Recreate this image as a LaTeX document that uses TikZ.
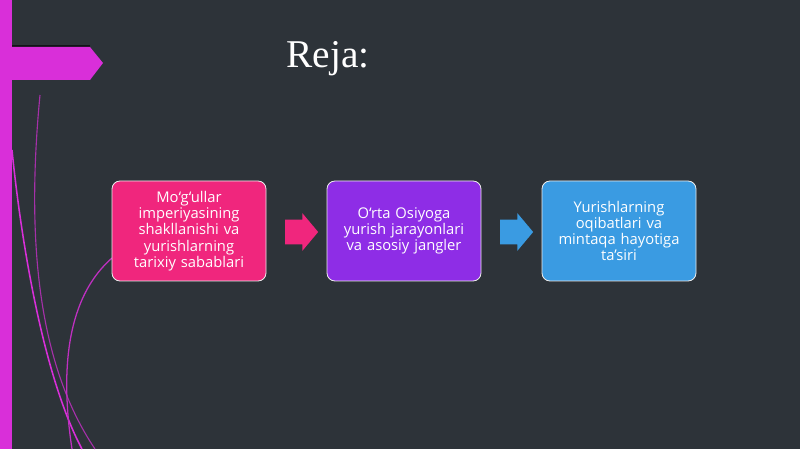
\documentclass[tikz,border=0pt]{standalone}
\usepackage{fontspec}
\setmainfont{Liberation Serif}
\newfontfamily\boxfont{Open Sans}
\usepackage{tikz}
\usetikzlibrary{shapes.arrows,calc}

\definecolor{slidebg}{HTML}{2D3339}
\definecolor{barpink}{HTML}{D92FD9}
\definecolor{rosebox}{HTML}{F0267D}
\definecolor{violetbox}{HTML}{8E2DE6}
\definecolor{skybox}{HTML}{3A9BE2}

\tikzset{
  planbox/.style={draw=white!85!gray, line width=0.6pt, rounded corners=0.2cm,
    minimum width=3.85cm, minimum height=2.5cm, text width=3.4cm, align=center,
    text=white, font=\boxfont\fontsize{10.5}{11.6}\selectfont},
  blockarrow/.style={single arrow, draw=none, inner xsep=0pt, inner ysep=0.3cm,
    minimum height=0.825cm, single arrow head extend=0.1625cm,
    single arrow tip angle=100},
  swoosh/.style={draw=barpink, line width=1.1pt}
}

\begin{document}
\begin{tikzpicture}
\useasboundingbox (0,0) rectangle (20,11.225) ;
\fill[slidebg] (0,0) rectangle (20,11.225) ;
% left band and tab
\fill[barpink] (0,0) rectangle (0.3,11.225) ;
\fill[black!60!slidebg] (0.3,10.1) rectangle (2.25,10.05) ;
\fill[barpink] (0.3,10.05) -- (2.25,10.05) -- (2.575,9.65) -- (2.25,9.225) -- (0.3,9.225) -- cycle ;
% curves
\draw[swoosh] (0.3,7.475) .. controls (0.55,4.975) and (1.125,1.725) .. (2.05,0) ;
\draw[swoosh, line width=0.8pt, draw=barpink!70!slidebg] (1,8.85) .. controls (0.675,5.475) and (0.875,2.225) .. (2.375,0) ;
\draw[swoosh, line width=0.9pt, draw=barpink!85!slidebg] (2.8,4.775) .. controls (1.8,3.9) and (1.45,2.3) .. (1.8,0) ;
% title
\node[anchor=base, font=\fontsize{28}{32}\selectfont, text=white] (title) at (8.2,9.525) {Reja:} ;
% boxes
\node[planbox, fill=rosebox] (box1) at (4.725,5.45) {Mo‘g‘ullar\\ imperiyasining\\ shakllanishi va\\ yurishlarning\\ tarixiy sabablari} ;
\node[planbox, fill=violetbox] (box2) at (10.1,5.45) {O‘rta Osiyoga\\ yurish jarayonlari\\ va asosiy jangler} ;
\node[planbox, fill=skybox] (box3) at (15.475,5.45) {Yurishlarning\\ oqibatlari va\\ mintaqa hayotiga\\ ta’siri} ;
% arrows
\node[blockarrow, fill=rosebox] (arr1) at ($(box1.east)!0.5!(box2.west)+(0,-0.025)$) {} ;
\node[blockarrow, fill=skybox] (arr2) at ($(box2.east)!0.5!(box3.west)+(0,-0.025)$) {} ;
\end{tikzpicture}
\end{document}
